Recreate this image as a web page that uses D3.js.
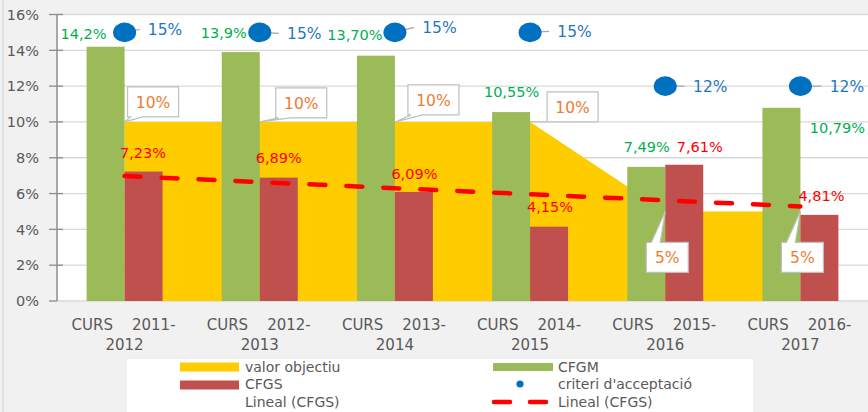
<!DOCTYPE html>
<html><head><meta charset="utf-8">
<script src="https://cdn.jsdelivr.net/npm/d3@7/dist/d3.min.js"></script>
<style>
body{margin:0;background:#f1f1f1}
svg{display:block}
text{font-family:"DejaVu Sans",sans-serif}
</style>
</head><body>
<svg id="chart" width="868" height="412"></svg>
<script>
// ---------- data ----------
const categories = ["CURS 2011-2012","CURS 2012-2013","CURS 2013-2014","CURS 2014-2015","CURS 2015-2016","CURS 2016-2017"];
const valorObjectiu = [10,10,10,10,5,5];
const cfgm = [14.2,13.9,13.70,10.55,7.49,10.79];
const cfgs = [7.23,6.89,6.09,4.15,7.61,4.81];
const criteri = [15,15,15,15,12,12];
const cfgmLabels = ["14,2%","13,9%","13,70%","10,55%","7,49%","10,79%"];
const cfgsLabels = ["7,23%","6,89%","6,09%","4,15%","7,61%","4,81%"];
const objectiuLabels = ["10%","10%","10%","10%","5%","5%"];
const criteriLabels = ["15%","15%","15%","15%","12%","12%"];
const yTicks = [0,2,4,6,8,10,12,14,16];
const yTickLabels = ["0%","2%","4%","6%","8%","10%","12%","14%","16%"];

// label offsets (manual placement as in the original), relative to the data point
const cfgmOff = [[-41,-13],[-36,-19],[-40,-21],[-18.5,-20],[-18.5,-20],[37,19.5]];
const cfgsOff = [[18.5,-19],[19,-19.5],[19.5,-18],[20,-20],[34.5,-17.5],[21,-19]];
const critOff = [[40.5,-3],[44.5,1],[44.5,-5],[44.5,-1],[45,0],[46.5,0]];
const objOff  = [[3,-35],[16,-34],[13,-37],[17,-30],[-19,31],[-19,31]];

const colors = {yellow:"#ffcc00", green:"#9bbb59", red:"#c0504d", blue:"#0070c0",
  greenTxt:"#00b050", redTxt:"#ff0000", blueTxt:"#1f77c4", orangeTxt:"#ed7d31"};

// ---------- layout ----------
const svg = d3.select("#chart");
const plot = {left:57, right:868, top:14.5, bottom:301};

const x = d3.scaleBand().domain(categories).range([plot.left, plot.right])
  .paddingInner(0.438).paddingOuter(0.219);
const cx = c => x(c) + x.bandwidth()/2;
const y = d3.scaleLinear().domain([0,16]).range([plot.bottom, plot.top]);
const bw = x.bandwidth()/2;

// left sheet line
svg.append("line").attr("x1",3).attr("x2",3).attr("y1",0).attr("y2",412)
  .attr("stroke","#d4d4d4").attr("stroke-width",1);

// plot background
svg.append("rect").attr("x",plot.left).attr("y",plot.top)
  .attr("width",plot.right-plot.left).attr("height",plot.bottom-plot.top).attr("fill","#fff");

// gridlines
svg.append("g").selectAll("line").data(yTicks).join("line")
  .attr("x1",plot.left).attr("x2",plot.right)
  .attr("y1",d=>y(d)).attr("y2",d=>y(d))
  .attr("stroke","#d9d9d9").attr("stroke-width",1.3);

// area (valor objectiu)
const area = d3.area().x((d,i)=>cx(categories[i])).y0(y(0)).y1(d=>y(d));
svg.append("path").datum(valorObjectiu).attr("d",area).attr("fill",colors.yellow);

// bars
svg.append("g").selectAll("rect").data(cfgm).join("rect")
  .attr("x",(d,i)=>x(categories[i])).attr("y",d=>y(d))
  .attr("width",bw).attr("height",d=>y(0)-y(d)).attr("fill",colors.green);
svg.append("g").selectAll("rect").data(cfgs).join("rect")
  .attr("x",(d,i)=>x(categories[i])+bw).attr("y",d=>y(d))
  .attr("width",bw).attr("height",d=>y(0)-y(d)).attr("fill",colors.red);

// y axis
const ax = svg.append("g");
ax.append("line").attr("x1",plot.left).attr("x2",plot.left).attr("y1",y(16)).attr("y2",y(0))
  .attr("stroke","#8c8c8c").attr("stroke-width",1.5);
ax.selectAll(".tk").data(yTicks).join("line")
  .attr("x1",49).attr("x2",d=>d===0?plot.left:63)
  .attr("y1",d=>y(d)).attr("y2",d=>y(d))
  .attr("stroke","#8c8c8c").attr("stroke-width",1.3);
ax.selectAll("text").data(yTicks).join("text")
  .attr("x",39).attr("y",d=>y(d)).attr("dy","0.36em").attr("text-anchor","end")
  .attr("font-size",14.5).attr("fill","#595959").text((d,i)=>yTickLabels[i]);

// x labels
const xl = svg.append("g").attr("font-size",15).attr("fill","#595959");
categories.forEach(c=>{
  const parts = c.split(" "); const yrs = parts[1].split("-");
  xl.append("text").attr("x",cx(c)-11.6).attr("y",325).attr("dy","0.36em")
    .attr("text-anchor","end").text(parts[0]);
  xl.append("text").attr("x",cx(c)+7.4).attr("y",325).attr("dy","0.36em")
    .attr("text-anchor","start").text(yrs[0]+"-");
  xl.append("text").attr("x",cx(c)).attr("y",345).attr("dy","0.36em")
    .attr("text-anchor","middle").text(yrs[1]);
});

// linear trend of CFGS (least squares, as the spreadsheet's "Lineal")
const idx = cfgs.map((d,i)=>i+1);
const mx = d3.mean(idx), my = d3.mean(cfgs);
const slope = d3.sum(idx.map((v,i)=>(v-mx)*(cfgs[i]-my))) / d3.sum(idx.map(v=>(v-mx)*(v-mx)));
const icpt = my - slope*mx;
const trend = idx.map(v=>icpt+slope*v);
const line = d3.line().x((d,i)=>cx(categories[i])).y(d=>y(d));
svg.append("path").datum(trend).attr("d",line).attr("fill","none")
  .attr("stroke","#ff0000").attr("stroke-width",4.5).attr("stroke-linecap","round")
  .attr("stroke-dasharray","16 21");

// criteri dots + leaders + labels
const dots = svg.append("g");
criteri.forEach((v,i)=>{
  const px = cx(categories[i]), py = y(v);
  const lx = px+critOff[i][0], ly = py+critOff[i][1];
  dots.append("line").attr("x1",px).attr("y1",py).attr("x2",lx-25.5).attr("y2",ly)
    .attr("stroke","#a6a6a6").attr("stroke-width",1.2);
  dots.append("ellipse").attr("cx",px).attr("cy",py).attr("rx",11.5).attr("ry",9.8).attr("fill",colors.blue);
  dots.append("text").attr("x",lx).attr("y",ly).attr("dy","0.36em").attr("text-anchor","middle")
    .attr("font-size",15.5).attr("fill",colors.blueTxt).text(criteriLabels[i]);
});

// CFGM labels
svg.append("g").selectAll("text").data(cfgm).join("text")
  .attr("x",(d,i)=>cx(categories[i])+cfgmOff[i][0]).attr("y",(d,i)=>y(d)+cfgmOff[i][1])
  .attr("dy","0.36em").attr("text-anchor","middle").attr("font-size",14.5)
  .attr("fill",colors.greenTxt).text((d,i)=>cfgmLabels[i]);
// CFGS labels
svg.append("g").selectAll("text").data(cfgs).join("text")
  .attr("x",(d,i)=>cx(categories[i])+cfgsOff[i][0]).attr("y",(d,i)=>y(d)+cfgsOff[i][1])
  .attr("dy","0.36em").attr("text-anchor","middle").attr("font-size",14.5)
  .attr("fill",colors.redTxt).text((d,i)=>cfgsLabels[i]);

// valor objectiu callouts
const co = svg.append("g");
valorObjectiu.forEach((v,i)=>{
  const ax0 = cx(categories[i]), ay0 = y(v);
  const g = co.append("g");
  const t = g.append("text").attr("font-size",15.5).attr("fill",colors.orangeTxt)
    .attr("text-anchor","middle").attr("dy","0.36em").text(objectiuLabels[i]);
  const tw = t.node().getComputedTextLength();
  const w = Math.round(tw+17), h = 30;
  const bx = ax0+objOff[i][0], by = ay0+objOff[i][1];
  let d;
  if (by < ay0) {
    d = `M${bx},${by}H${bx+w}V${by+h}H${bx+15}L${ax0},${ay0}L${bx+3},${by+h}H${bx}Z`;
  } else {
    d = `M${bx},${by}H${bx+5}L${ax0},${ay0}L${bx+14},${by}H${bx+w}V${by+h}H${bx}Z`;
  }
  g.insert("path","text").attr("d",d).attr("fill","#fff").attr("stroke","#bfbfbf").attr("stroke-width",1.2);
  t.attr("x",bx+w/2).attr("y",by+h/2);
});

// legend
const lg = svg.append("g");
lg.append("rect").attr("x",127).attr("y",359).attr("width",626).attr("height",53).attr("fill","#fff");
const lt = (tx,ty,s)=>lg.append("text").attr("x",tx).attr("y",ty).attr("dy","0.36em")
  .attr("font-size",14).attr("fill","#595959").text(s);
lg.append("rect").attr("x",180).attr("y",362.5).attr("width",59).attr("height",9).attr("fill",colors.yellow);
lt(245,367,"valor objectiu");
lg.append("rect").attr("x",180).attr("y",380.5).attr("width",59).attr("height",9).attr("fill",colors.red);
lt(245,384,"CFGS");
lt(245,402,"Lineal (CFGS)");
lg.append("rect").attr("x",493).attr("y",363).attr("width",60).attr("height",8).attr("fill",colors.green);
lt(558,367,"CFGM");
lg.append("circle").attr("cx",520).attr("cy",384).attr("r",3.6).attr("fill",colors.blue);
lt(558,384,"criteri d'acceptació");
lg.append("line").attr("x1",494).attr("x2",546).attr("y1",402).attr("y2",402)
  .attr("stroke","#ff0000").attr("stroke-width",4.5).attr("stroke-linecap","round")
  .attr("stroke-dasharray","16 20");
lt(558,402,"Lineal (CFGS)");
</script>
</body></html>
